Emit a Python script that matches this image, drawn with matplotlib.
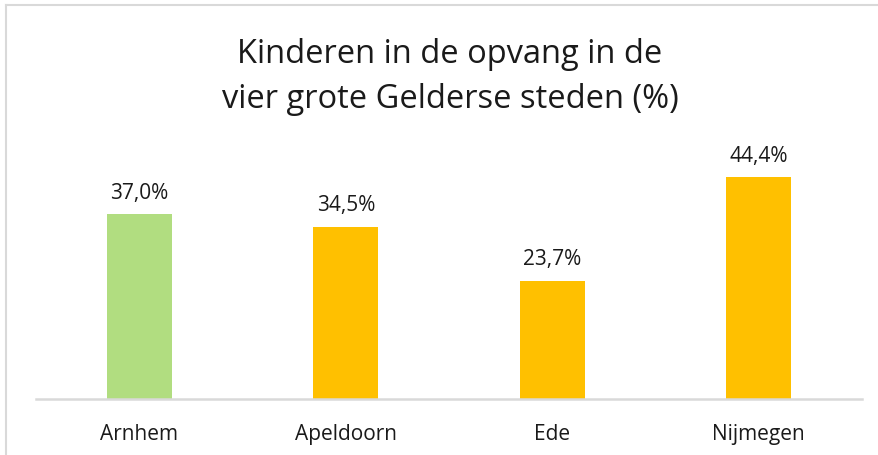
import matplotlib
matplotlib.use("Agg")
import matplotlib.pyplot as plt
from matplotlib.lines import Line2D

categories = ["Arnhem", "Apeldoorn", "Ede", "Nijmegen"]
values = [37.0, 34.5, 23.7, 44.4]
labels = ["37,0%", "34,5%", "23,7%", "44,4%"]
colors = ["#B1DD80", "#FFC000", "#FFC000", "#FFC000"]
title = "Kinderen in de opvang in de\nvier grote Gelderse steden (%)"

plt.rcParams['font.family'] = ['Open Sans', 'DejaVu Sans']

W, H = 879, 456
fig = plt.figure(figsize=(W/100, H/100), dpi=100)
ax = fig.add_axes([36/W, 56/H, 826/W, 250/H])

x = range(len(categories))
ax.bar(x, values, width=0.315, color=colors)
ax.set_xlim(-0.5, len(categories) - 0.5)
ax.set_ylim(0, 50)
ax.set_xticks(list(x))
ax.set_xticklabels(categories, fontsize=15, color="#1a1a1a")
ax.tick_params(axis='x', length=0, pad=17)
ax.set_yticks([])
for s in ['top', 'right', 'left']:
    ax.spines[s].set_visible(False)
ax.spines['bottom'].set_color('#d9d9d9')
ax.spines['bottom'].set_linewidth(1.8)

for xi, v, lab in zip(x, values, labels):
    ax.annotate(lab, (xi, v), xytext=(0, 8), textcoords='offset points',
                ha='center', va='bottom', fontsize=15, color="#1a1a1a")

fig.text(450/W, 1 - 77/H, title, ha='center', va='center', fontsize=23.5,
         linespacing=1.45, color="#1a1a1a")

# chart border (left and top visible)
fig.add_artist(Line2D([6/W, 6/W], [0, 1 - 6/H], color='#d9d9d9', lw=1.5,
                      transform=fig.transFigure))
fig.add_artist(Line2D([6/W, 1], [1 - 6/H, 1 - 6/H], color='#d9d9d9', lw=1.5,
                      transform=fig.transFigure))

fig.savefig("out.png", dpi=100, facecolor='white')
